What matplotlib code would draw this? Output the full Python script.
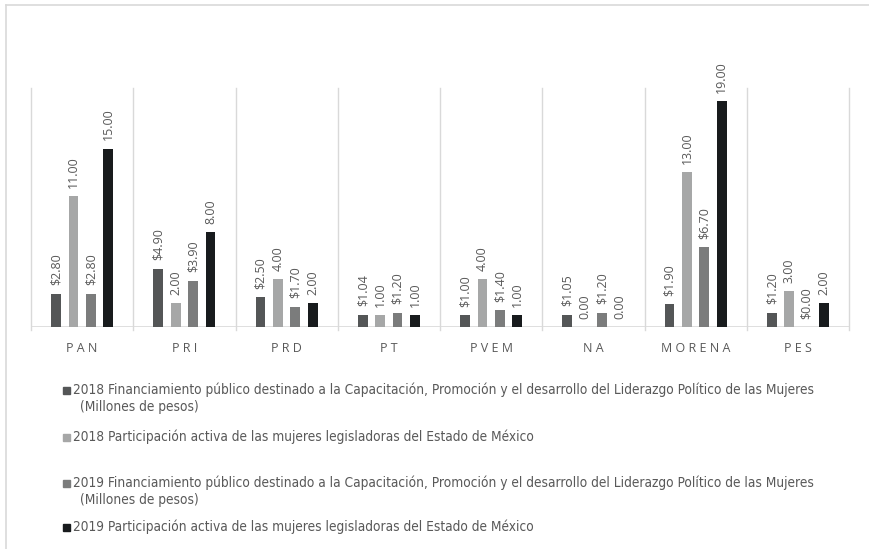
import matplotlib
matplotlib.use("Agg")
import matplotlib.pyplot as plt
from matplotlib.patches import Rectangle
from matplotlib.lines import Line2D
import numpy as np

categories = ["PAN", "PRI", "PRD", "PT", "PVEM", "NA", "MORENA", "PES"]
fin_2018 = [2.80, 4.90, 2.50, 1.04, 1.00, 1.05, 1.90, 1.20]
part_2018 = [11.00, 2.00, 4.00, 1.00, 4.00, 0.00, 13.00, 3.00]
fin_2019 = [2.80, 3.90, 1.70, 1.20, 1.40, 1.20, 6.70, 0.00]
part_2019 = [15.00, 8.00, 2.00, 1.00, 1.00, 0.00, 19.00, 2.00]

series_labels = [
    ["2018 Financiamiento público destinado a la Capacitación, Promoción y el desarrollo del Liderazgo Político de las Mujeres", "(Millones de pesos)"],
    ["2018 Participación activa de las mujeres legisladoras del Estado de México"],
    ["2019 Financiamiento público destinado a la Capacitación, Promoción y el desarrollo del Liderazgo Político de las Mujeres", "(Millones de pesos)"],
    ["2019 Participación activa de las mujeres legisladoras del Estado de México"],
]
value_prefix = ["$", "", "$", ""]

series = [fin_2018, part_2018, fin_2019, part_2019]
colors = ["#545657", "#a6a7a7", "#7b7c7c", "#181b1d"]
txt_color = "#595959"
grid_color = "#d9d9d9"

fig = plt.figure(figsize=(8.69, 5.49), dpi=100)
ax = fig.add_axes([31/869, 1-327/549, 818/869, (327-88)/549])

x = np.arange(len(categories))
offsets = [-0.255, -0.085, 0.085, 0.255]
bw = 0.095
for vals, off, col, pre in zip(series, offsets, colors, value_prefix):
    bars = ax.bar(x + off, vals, width=bw, color=col, zorder=3)
    for b, v in zip(bars, vals):
        ax.annotate(f"{pre}{v:.2f}", (b.get_x() + b.get_width()/2, b.get_height()),
                    xytext=(0, 6), textcoords="offset points", rotation=90,
                    ha="center", va="bottom", fontsize=9, color=txt_color,
                    family=["Open Sans", "DejaVu Sans"])

ax.set_xlim(-0.5, len(categories) - 0.5)
ax.set_ylim(0, 20.1)
for b in np.arange(-0.5, len(categories), 1.0):
    ax.axvline(b, color=grid_color, lw=1, zorder=1, ymin=-0.012, clip_on=False)
ax.axhline(0, color=grid_color, lw=1.2, zorder=2)
for s in ax.spines.values():
    s.set_visible(False)
ax.set_yticks([])
ax.set_xticks(x)
ax.set_xticklabels([" ".join(c) for c in categories], fontsize=9, color=txt_color,
                   family=["Open Sans", "DejaVu Sans"])
ax.tick_params(axis="x", length=0, pad=11)

# figure border (top and left)
fig.add_artist(Line2D([6/869, 1], [1-5/549, 1-5/549], color=grid_color, lw=1.2, transform=fig.transFigure))
fig.add_artist(Line2D([6/869, 6/869], [0, 1-5/549], color=grid_color, lw=1.2, transform=fig.transFigure))

# legend
ys = [390, 437, 483, 527]
leg_font = dict(color=txt_color, va="center", ha="left",
                family=["DejaVu Sans"], fontstretch="condensed")
texts = []
for lines, col, y in zip(series_labels, colors, ys):
    fig.add_artist(Rectangle((63/869, 1-(y+3.5)/549), 7/869, 7/549, color=col, transform=fig.transFigure))
    texts.append(fig.text(73/869, 1-y/549, lines[0], fontsize=10, **leg_font))
    if len(lines) > 1:
        texts.append(fig.text(80/869, 1-(y+17)/549, lines[1], fontsize=10, **leg_font))

# fit the long legend line to the reference width (~742 px)
renderer = fig.canvas.get_renderer()
w = texts[0].get_window_extent(renderer).width
fs = 10 * 742 / w
for t in texts:
    t.set_fontsize(fs)

fig.savefig("out.png", dpi=100)
